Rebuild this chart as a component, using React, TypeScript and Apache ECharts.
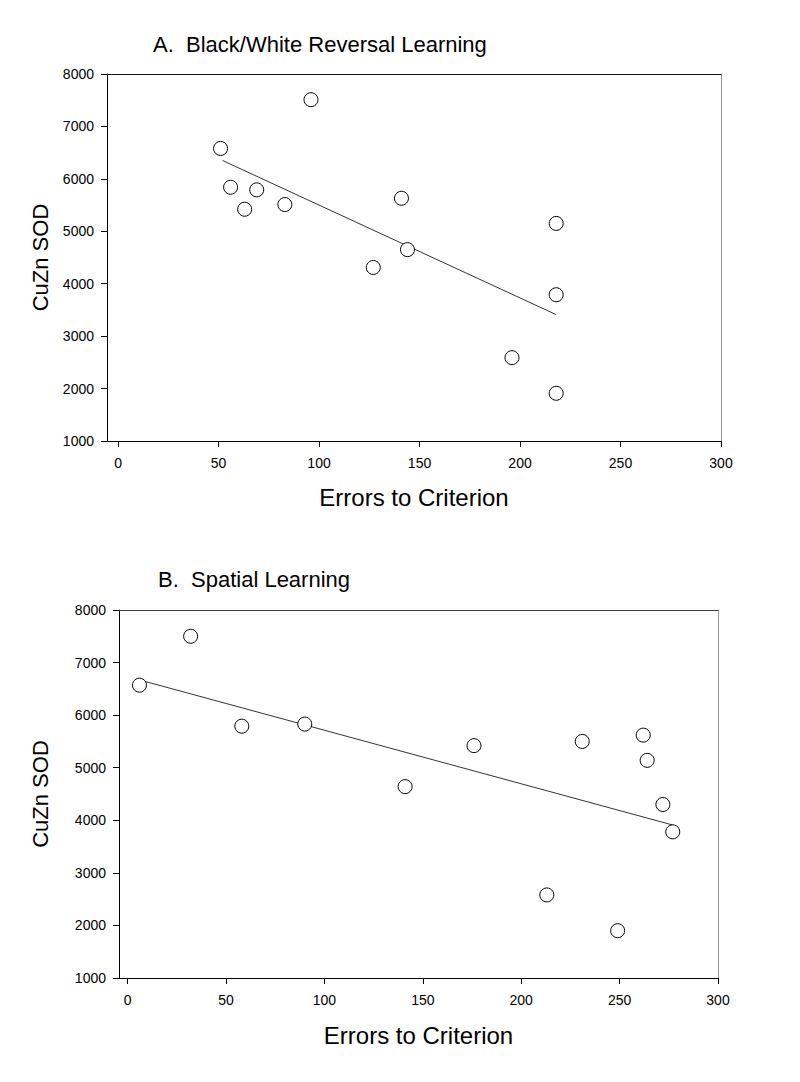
import React, { useEffect, useRef } from "react";
import * as echarts from "echarts";

const xTicks = [0, 50, 100, 150, 200, 250, 300];
const yMin = 1000;
const yMax = 8000;
const yStep = 1000;

const titleA = "A.  Black/White Reversal Learning";
const titleB = "B.  Spatial Learning";
const xName = "Errors to Criterion";
const yName = "CuZn SOD";

// Panel A: Black/White reversal learning
const errorsA = [51, 56, 63, 69, 83, 96, 127, 141, 144, 196, 218, 218, 218];
const sodA = [6580, 5840, 5420, 5790, 5510, 7510, 4310, 5630, 4650, 2590, 5150, 3790, 1910];
const trendXA = [52, 218];
const trendYA = [6350, 3410];

// Panel B: Spatial learning
const errorsB = [6, 32, 58, 90, 141, 176, 213, 231, 249, 262, 264, 272, 277];
const sodB = [6570, 7500, 5790, 5830, 4640, 5420, 2580, 5500, 1900, 5620, 5140, 4300, 3780];
const trendXB = [6, 277];
const trendYB = [6670, 3910];

const FONT = "'Liberation Sans', Arial, sans-serif";

function zip(xs: number[], ys: number[]) {
  return xs.map((x, i) => [x, ys[i]]);
}

function mainX(gridIndex: number, min: number, nameGap: number) {
  return {
    type: "value",
    gridIndex,
    min,
    max: 300,
    position: "bottom",
    name: xName,
    nameLocation: "middle",
    nameGap,
    nameTextStyle: { fontSize: 24, color: "#000", fontFamily: FONT },
    axisLine: { show: true, onZero: false, lineStyle: { color: "#000", width: 1 } },
    axisTick: { show: true, inside: false, length: 6, customValues: xTicks, lineStyle: { color: "#000" } },
    axisLabel: {
      show: true,
      customValues: xTicks,
      margin: 15,
      fontSize: 14,
      color: "#000",
      fontFamily: FONT,
      formatter: (v: number) => String(v),
    },
    splitLine: { show: false },
  };
}

function borderX(gridIndex: number, min: number, color: string) {
  return {
    type: "value",
    gridIndex,
    min,
    max: 300,
    position: "top",
    axisLine: { show: true, onZero: false, lineStyle: { color, width: 1 } },
    axisTick: { show: false },
    axisLabel: { show: false },
    splitLine: { show: false },
  };
}

function mainY(gridIndex: number, nameGap: number) {
  return {
    type: "value",
    gridIndex,
    min: yMin,
    max: yMax,
    interval: yStep,
    position: "left",
    name: yName,
    nameLocation: "middle",
    nameGap,
    nameRotate: 90,
    nameTextStyle: { fontSize: 22, color: "#000", fontFamily: FONT },
    axisLine: { show: true, onZero: false, lineStyle: { color: "#000", width: 1 } },
    axisTick: { show: true, inside: false, length: 6, lineStyle: { color: "#000" } },
    axisLabel: {
      show: true,
      margin: 13,
      fontSize: 14,
      color: "#000",
      fontFamily: FONT,
      formatter: (v: number) => String(v),
    },
    splitLine: { show: false },
  };
}

function borderY(gridIndex: number, color: string) {
  return {
    type: "value",
    gridIndex,
    min: yMin,
    max: yMax,
    interval: yStep,
    position: "right",
    axisLine: { show: true, onZero: false, lineStyle: { color, width: 1 } },
    axisTick: { show: false },
    axisLabel: { show: false },
    splitLine: { show: false },
  };
}

function scatter(xAxisIndex: number, yAxisIndex: number, xs: number[], ys: number[]) {
  return {
    type: "scatter",
    xAxisIndex,
    yAxisIndex,
    data: zip(xs, ys),
    symbol: "circle",
    symbolSize: 14,
    itemStyle: { color: "#fff", borderColor: "#000", borderWidth: 1, opacity: 1 },
    z: 5,
  };
}

function trend(xAxisIndex: number, yAxisIndex: number, xs: number[], ys: number[]) {
  return {
    type: "line",
    xAxisIndex,
    yAxisIndex,
    data: zip(xs, ys),
    symbol: "none",
    lineStyle: { color: "#333", width: 1 },
    z: 3,
  };
}

export default function App() {
  const ref = useRef<HTMLDivElement>(null);
  useEffect(() => {
    if (!ref.current) return;
    const chart = echarts.init(ref.current, null, { renderer: "svg" });
    const titleStyle = { fontSize: 22, fontWeight: "normal", color: "#000", fontFamily: FONT };
    chart.setOption({
      animation: false,
      backgroundColor: "#fff",
      title: [
        { text: titleA, left: 153, top: 33, padding: 0, textStyle: titleStyle },
        { text: titleB, left: 158, top: 568, padding: 0, textStyle: titleStyle },
      ],
      grid: [
        { left: 107, top: 74, width: 614, height: 367 },
        { left: 119, top: 610, width: 599, height: 368 },
      ],
      xAxis: [
        mainX(0, -5.5, 44),
        borderX(0, -5.5, "#111"),
        mainX(1, -4.4, 45),
        borderX(1, -4.4, "#444"),
      ],
      yAxis: [
        mainY(0, 56),
        borderY(0, "#999"),
        mainY(1, 68),
        borderY(1, "#999"),
      ],
      series: [
        trend(0, 0, trendXA, trendYA),
        scatter(0, 0, errorsA, sodA),
        trend(2, 2, trendXB, trendYB),
        scatter(2, 2, errorsB, sodB),
      ],
    });
    return () => chart.dispose();
  }, []);
  return (
    <div
      ref={ref}
      style={{ position: "absolute", left: 0, top: 0, width: 800, height: 1082 }}
    />
  );
}
